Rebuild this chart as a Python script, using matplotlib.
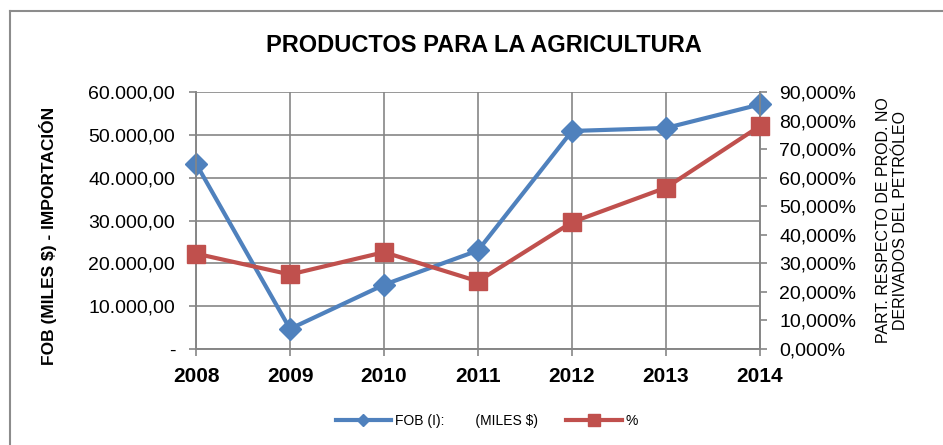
import matplotlib
matplotlib.use('Agg')
import matplotlib.pyplot as plt
from matplotlib.ticker import FuncFormatter, MultipleLocator
from matplotlib.lines import Line2D

plt.rcParams['font.family'] = ['Liberation Sans', 'DejaVu Sans']

years = ['2008', '2009', '2010', '2011', '2012', '2013', '2014']
fob = [43300, 4700, 15000, 23000, 50900, 51600, 57100]
pct = [0.334, 0.261, 0.339, 0.237, 0.444, 0.565, 0.781]

blue = '#4F81BD'
red = '#C0504D'
grid_col = '#868686'


def miles(v, pos):
    if abs(v) < 1e-9:
        return '-'
    s = f"{v:,.2f}"
    return s.replace(',', 'X').replace('.', ',').replace('X', '.')


def porc(v, pos):
    return f"{v * 100:.3f}%".replace('.', ',')


fig = plt.figure(figsize=(9.43, 4.45), dpi=100)
ax = fig.add_axes([196 / 943, 1 - 349 / 445, (760 - 196) / 943, (349 - 92) / 445])
ax2 = ax.twinx()

x = list(range(len(years)))
ax.plot(x, fob, color=blue, lw=3, marker='D', ms=11.5, zorder=3, clip_on=False)
ax2.plot(x, pct, color=red, lw=3, marker='s', ms=13, zorder=3, clip_on=False)

ax.set_xlim(0, len(years) - 1)
ax.set_ylim(0, 60000)
ax2.set_ylim(0, 0.9)
ax.set_xticks(x)
ax.set_xticklabels(years, fontsize=15, fontweight='bold')
ax.yaxis.set_major_locator(MultipleLocator(10000))
ax.yaxis.set_major_formatter(FuncFormatter(miles))
ax2.yaxis.set_major_locator(MultipleLocator(0.1))
ax2.yaxis.set_major_formatter(FuncFormatter(porc))

ax.grid(True, color=grid_col, lw=1.2)
ax.set_axisbelow(True)
for a in (ax, ax2):
    for sp in a.spines.values():
        sp.set_color(grid_col)
        sp.set_linewidth(1.2)
    a.spines['top'].set_visible(False)
    a.tick_params(colors=grid_col, length=5, width=1.2, labelcolor='black', labelsize=14)
ax.tick_params(axis='x', labelsize=15, pad=8)
ax.tick_params(axis='y', pad=10)
ax2.tick_params(axis='y', pad=9)

ax.set_ylabel('FOB (MILES $) - IMPORTACIÓN', fontsize=12.5, fontweight='bold')
ax.yaxis.set_label_coords(-0.246, 0.44)
ax2.set_ylabel('PART. RESPECTO DE PROD. NO\nDERIVADOS DEL PETRÓLEO', fontsize=11.5,
               labelpad=14, linespacing=1.15)

fig.text(0.513, 1 - 46 / 445, 'PRODUCTOS PARA LA AGRICULTURA', ha='center', va='center',
         fontsize=17, fontweight='bold')

handles = [Line2D([], [], color=blue, lw=3, marker='D', ms=6),
           Line2D([], [], color=red, lw=3, marker='s', ms=8)]
fig.legend(handles, ['FOB (I):        (MILES $)', '%'], loc='center',
           bbox_to_anchor=(487 / 943, 1 - 421 / 445), ncol=2, frameon=False,
           fontsize=10, handlelength=4.0, columnspacing=2.0, handletextpad=0.3)

# chart border (only left and top visible in the source crop)
fig.add_artist(Line2D([10 / 943, 10 / 943], [0, 1 - 11 / 445], transform=fig.transFigure,
                      color='#8c8c8c', lw=1.5))
fig.add_artist(Line2D([10 / 943, 1], [1 - 11 / 445, 1 - 11 / 445], transform=fig.transFigure,
                      color='#8c8c8c', lw=1.5))

fig.savefig('out.png', dpi=100)
